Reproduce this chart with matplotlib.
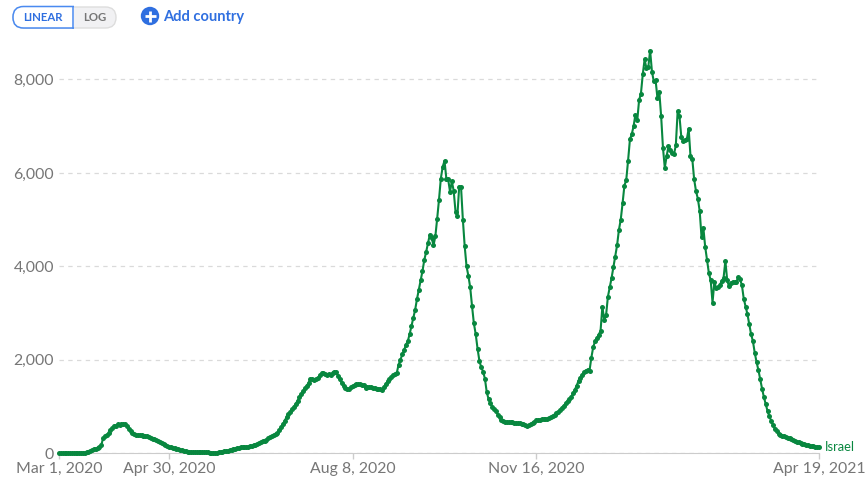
import pandas as pd
import matplotlib
matplotlib.use('Agg')
import matplotlib.pyplot as plt
from matplotlib.patches import Circle, FancyBboxPatch, Rectangle

plt.rcParams['font.family'] = ['Lato', 'DejaVu Sans']

# daily values, ten days per row
cases = [
    5, 5, 5, 6, 6, 7, 7, 8, 9, 10,
    10, 10, 11, 12, 15, 22, 35, 45, 70, 90,
    100, 115, 140, 170, 320, 370, 390, 430, 490, 540,
    590, 590, 620, 610, 630, 625, 620, 580, 520, 470,
    440, 410, 395, 390, 385, 385, 380, 375, 360, 340,
    320, 305, 300, 290, 265, 240, 215, 190, 175, 155,
    140, 125, 110, 105, 95, 85, 70, 60, 50, 42,
    38, 35, 32, 30, 30, 30, 30, 28, 28, 28,
    25, 20, 15, 10, 10, 10, 12, 20, 28, 35,
    40, 48, 55, 65, 75, 95, 100, 105, 115, 125,
    125, 130, 135, 140, 150, 160, 170, 185, 200, 220,
    240, 255, 270, 290, 320, 350, 370, 390, 410, 430,
    490, 560, 630, 700, 780, 840, 890, 940, 1000, 1060,
    1130, 1200, 1270, 1330, 1390, 1450, 1510, 1600, 1590, 1570,
    1580, 1610, 1670, 1710, 1720, 1690, 1680, 1700, 1680, 1720,
    1745, 1730, 1660, 1580, 1500, 1450, 1400, 1370, 1370, 1420,
    1440, 1460, 1480, 1480, 1480, 1470, 1460, 1390, 1410, 1420,
    1410, 1400, 1390, 1380, 1380, 1370, 1365, 1420, 1480, 1540,
    1590, 1640, 1680, 1700, 1720, 1900, 2000, 2120, 2210, 2320,
    2400, 2550, 2720, 2900, 3070, 3300, 3500, 3700, 3900, 4140,
    4310, 4500, 4680, 4610, 4450, 4640, 5020, 5430, 5880, 6130,
    6260, 5880, 5860, 5600, 5820, 5620, 5170, 5080, 5710, 5700,
    5000, 4430, 4000, 3800, 3550, 3150, 2780, 2550, 2240, 1980,
    1840, 1750, 1600, 1310, 1160, 1080, 1000, 950, 900, 830,
    770, 720, 690, 680, 670, 670, 665, 660, 655, 650,
    645, 640, 635, 620, 600, 585, 600, 630, 650, 680,
    705, 715, 720, 725, 730, 730, 735, 745, 770, 800,
    830, 860, 890, 930, 980, 1020, 1070, 1120, 1160, 1210,
    1280, 1360, 1450, 1550, 1620, 1680, 1730, 1770, 1790, 1770,
    2050, 2270, 2400, 2460, 2540, 2620, 3140, 2850, 2950, 3350,
    3550, 3750, 3980, 4200, 4450, 4780, 5000, 5350, 5730, 5850,
    6265, 6716, 6830, 7000, 7250, 7125, 7560, 7700, 8110, 8430,
    8240, 8260, 8620, 8170, 7960, 7980, 7600, 7740, 7220, 6540,
    6110, 6360, 6570, 6500, 6430, 6400, 6590, 7320, 7210, 6770,
    6680, 6700, 6720, 6950, 6360, 6290, 5860, 5610, 5450, 5190,
    4630, 4830, 4420, 4140, 3860, 3700, 3225, 3670, 3530, 3560,
    3600, 3690, 3750, 4120, 3700, 3570, 3650, 3670, 3660, 3670,
    3770, 3720, 3600, 3310, 3140, 2980, 2760, 2550, 2400, 2150,
    1950, 1780, 1580, 1380, 1200, 1050, 900, 790, 690, 600,
    520, 470, 420, 390, 360, 370, 345, 330, 320, 300,
    285, 270, 250, 240, 220, 205, 190, 180, 170, 160,
    155, 150, 145, 140, 140,
]
start_date = '2020-03-01'
end_date = '2021-04-19'
date_ticks = ['2020-03-01', '2020-04-30', '2020-08-08', '2020-11-16', '2021-04-19']
date_labels = ['Mar 1, 2020', 'Apr 30, 2020', 'Aug 8, 2020', 'Nov 16, 2020', 'Apr 19, 2021']
y_ticks = [0, 2000, 4000, 6000, 8000]
country = 'Israel'

GREEN = '#08873f'
GREY = '#767676'
BLUE = '#2f6fe0'

dates = pd.date_range(start_date, periods=len(cases))

fig = plt.figure(figsize=(8.66, 4.8), dpi=100)

# plot area: x 59..819, y 453 (zero) up to 60 px
top_px = 60
ax = fig.add_axes([59 / 866, (480 - 453.3) / 480, 760 / 866, (453.3 - top_px) / 480])
ax.set_xlim(pd.Timestamp(start_date), pd.Timestamp(end_date))
ax.set_ylim(0, 8000 * (453.3 - top_px) / 373.8)

ax.plot(dates, cases, color=GREEN, lw=1.5, marker='o', ms=3.6, mew=0, clip_on=False, zorder=3)
ax.annotate(country, (pd.Timestamp(end_date), cases[-1]), xytext=(4, 0), textcoords='offset points',
            color=GREEN, fontsize=9.3, va='center', ha='left', annotation_clip=False)

for s in ['top', 'right', 'left']:
    ax.spines[s].set_visible(False)
ax.spines['bottom'].set_color('#cccccc')
ax.set_yticks(y_ticks)
ax.set_yticklabels([f'{v:,}' for v in y_ticks])
ax.tick_params(axis='y', length=0, pad=3.5, labelsize=11.4, labelcolor=GREY)
ax.set_xticks(pd.to_datetime(date_ticks))
ax.set_xticklabels(date_labels)
ax.tick_params(axis='x', length=4, width=1, color='#cccccc', pad=2, labelsize=11.4, labelcolor=GREY)
ax.grid(axis='y', color='#dadada', lw=0.9, ls=(0, (3.5, 3.5)))
ax.set_axisbelow(True)
ax.patch.set_alpha(0)

# buttons on top, in pixel coordinates
ui = fig.add_axes([0, 0, 1, 1], zorder=5)
ui.set_xlim(0, 866)
ui.set_ylim(480, 0)
ui.axis('off')

pill = FancyBboxPatch((13, 7), 103, 21, boxstyle='round,pad=0,rounding_size=10.5', fc='#f1f1f3',
                      ec='#dddddd', lw=1)
ui.add_patch(pill)
linear = FancyBboxPatch((13, 6.5), 80, 21.5, boxstyle='round,pad=0,rounding_size=10.5', fc='white',
                        ec='#4a8af0', lw=1.1)
ui.add_patch(linear)
linear.set_clip_path(Rectangle((12, 5), 61.5, 24, transform=ui.transData))
ui.plot([73, 73], [6.5, 28], color='#4a8af0', lw=1.1)
ui.text(43, 17.5, 'LINEAR', color=BLUE, fontsize=8.2, fontweight='bold', ha='center', va='center')
ui.text(95, 17.5, 'LOG', color=GREY, fontsize=8.2, fontweight='bold', ha='center', va='center')

ui.add_patch(Circle((150, 16), 9.2, fc=BLUE, ec='none'))
ui.plot([144.5, 155.5], [16, 16], color='white', lw=2, solid_capstyle='butt')
ui.plot([150, 150], [10.5, 21.5], color='white', lw=2, solid_capstyle='butt')
ui.text(163, 16.5, 'Add country', color=BLUE, fontsize=10.5, fontweight='bold', ha='left', va='center')

plt.savefig('out.png', dpi=100)
